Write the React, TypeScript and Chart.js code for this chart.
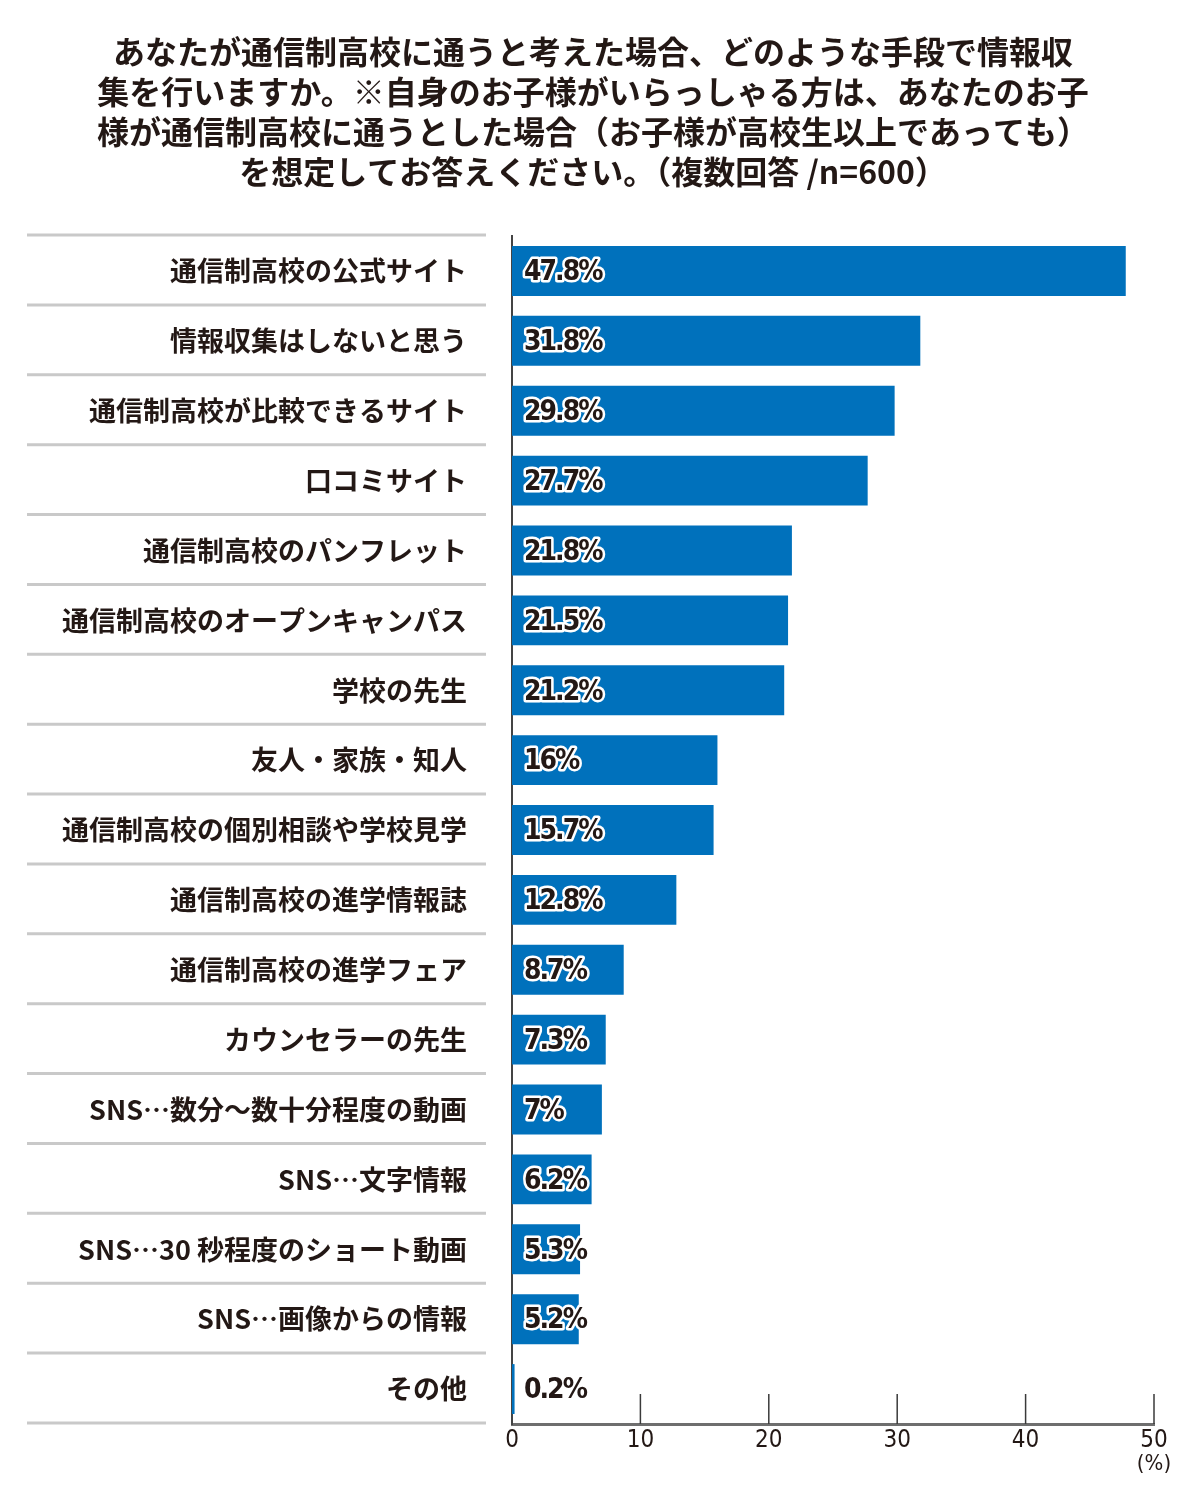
import React, { useEffect, useRef } from "react";
import { Chart, registerables } from "chart.js";

Chart.register(...registerables);

const titleLines = [
  "あなたが通信制高校に通うと考えた場合、どのような手段で情報収",
  "集を行いますか。※自身のお子様がいらっしゃる方は、あなたのお子",
  "様が通信制高校に通うとした場合（お子様が高校生以上であっても）",
  "を想定してお答えください。（複数回答 /n=600）",
];

const categories = [
  "通信制高校の公式サイト",
  "情報収集はしないと思う",
  "通信制高校が比較できるサイト",
  "口コミサイト",
  "通信制高校のパンフレット",
  "通信制高校のオープンキャンパス",
  "学校の先生",
  "友人・家族・知人",
  "通信制高校の個別相談や学校見学",
  "通信制高校の進学情報誌",
  "通信制高校の進学フェア",
  "カウンセラーの先生",
  "SNS…数分～数十分程度の動画",
  "SNS…文字情報",
  "SNS…30 秒程度のショート動画",
  "SNS…画像からの情報",
  "その他",
];

const values = [47.8, 31.8, 29.8, 27.7, 21.8, 21.5, 21.2, 16, 15.7, 12.8, 8.7, 7.3, 7, 6.2, 5.3, 5.2, 0.2];

const xTicks = [0, 10, 20, 30, 40, 50];
const unitLabel = "(%)";

const DARK = "#231815";
const BAR = "#0071BC";
const JP = "'Noto Sans CJK JP', 'Noto Sans', sans-serif";
const NARROW = "'Liberation Sans Narrow', 'DejaVu Sans Condensed', 'Roboto', sans-serif";

const decorPlugin = {
  id: "decor",
  beforeDatasetsDraw(chart: any) {
    const ctx = chart.ctx;
    const x = chart.scales.x;
    const area = chart.chartArea;
    const n = categories.length;
    const rowH = (area.bottom - area.top) / n;
    ctx.save();
    ctx.strokeStyle = "#c9c9c9";
    ctx.lineWidth = 3;
    for (let i = 0; i <= n; i++) {
      const yy = area.top - 1 + i * rowH;
      ctx.beginPath();
      ctx.moveTo(27, yy);
      ctx.lineTo(486, yy);
      ctx.stroke();
    }
    ctx.strokeStyle = "#3a3a3a";
    ctx.lineWidth = 1.5;
    xTicks.forEach((t) => {
      if (t === 0) return;
      const xx = x.getPixelForValue(t);
      ctx.beginPath();
      ctx.moveTo(xx, area.bottom - 30);
      ctx.lineTo(xx, area.bottom);
      ctx.stroke();
    });
    ctx.restore();
  },
  afterDraw(chart: any) {
    const ctx = chart.ctx;
    const x = chart.scales.x;
    const area = chart.chartArea;
    ctx.save();
    ctx.fillStyle = DARK;
    ctx.font = `bold 32px ${JP}`;
    ctx.textAlign = "center";
    ctx.textBaseline = "middle";
    titleLines.forEach((line, i) => {
      ctx.fillText(line, 593, 52 + i * 40);
    });
    const meta = chart.getDatasetMeta(0);
    ctx.font = `bold 28px ${NARROW}`;
    (ctx as any).letterSpacing = "-2px";
    ctx.textAlign = "left";
    ctx.lineJoin = "round";
    meta.data.forEach((bar: any, i: number) => {
      const txt = `${values[i]}%`;
      const tx = area.left + 12;
      const ty = bar.y + 2;
      ctx.strokeStyle = "#ffffff";
      ctx.lineWidth = 5;
      ctx.strokeText(txt, tx, ty);
      ctx.fillStyle = DARK;
      ctx.fillText(txt, tx, ty);
    });
    (ctx as any).letterSpacing = "0px";
    ctx.font = `22px ${NARROW}`;
    ctx.textAlign = "center";
    ctx.fillStyle = DARK;
    ctx.fillText(unitLabel, x.getPixelForValue(50), area.bottom + 40);
    ctx.restore();
  },
};

export default function App() {
  const ref = useRef<HTMLCanvasElement | null>(null);
  useEffect(() => {
    document.body.style.margin = "0";
    document.documentElement.lang = "ja";
    if (!ref.current) return;
    const chart = new Chart(ref.current, {
      type: "bar",
      data: {
        labels: categories,
        datasets: [
          {
            data: values,
            backgroundColor: BAR,
            borderWidth: 0,
            categoryPercentage: 1,
            barPercentage: 50 / 70,
          },
        ],
      },
      options: {
        indexAxis: "y",
        responsive: false,
        animation: false,
        layout: { padding: { top: 236, bottom: 36, right: 46, left: 0 } },
        plugins: {
          legend: { display: false },
          tooltip: { enabled: false },
          title: { display: false },
        },
        scales: {
          x: {
            min: 0,
            max: 50,
            afterFit: (s: any) => {
              s.height = 40;
            },
            afterBuildTicks: (s: any) => {
              s.ticks = xTicks.map((v) => ({ value: v }));
            },
            grid: { display: false, drawTicks: false },
            border: { display: true, color: "#6e6e6e", width: 3 },
            ticks: {
              color: DARK,
              font: { family: NARROW, size: 24 },
              padding: 2,
              maxRotation: 0,
            },
          },
          y: {
            afterFit: (s: any) => {
              s.width = 512;
            },
            grid: { display: false, drawTicks: false },
            border: { display: true, color: "#444444", width: 2 },
            ticks: {
              color: DARK,
              font: { family: JP, size: 27, weight: "bold" },
              padding: 45,
              autoSkip: false,
            },
          },
        },
      },
      plugins: [decorPlugin],
    });
    return () => chart.destroy();
  }, []);
  return <canvas ref={ref} lang="ja" width={1200} height={1500} style={{ display: "block" }} />;
}
